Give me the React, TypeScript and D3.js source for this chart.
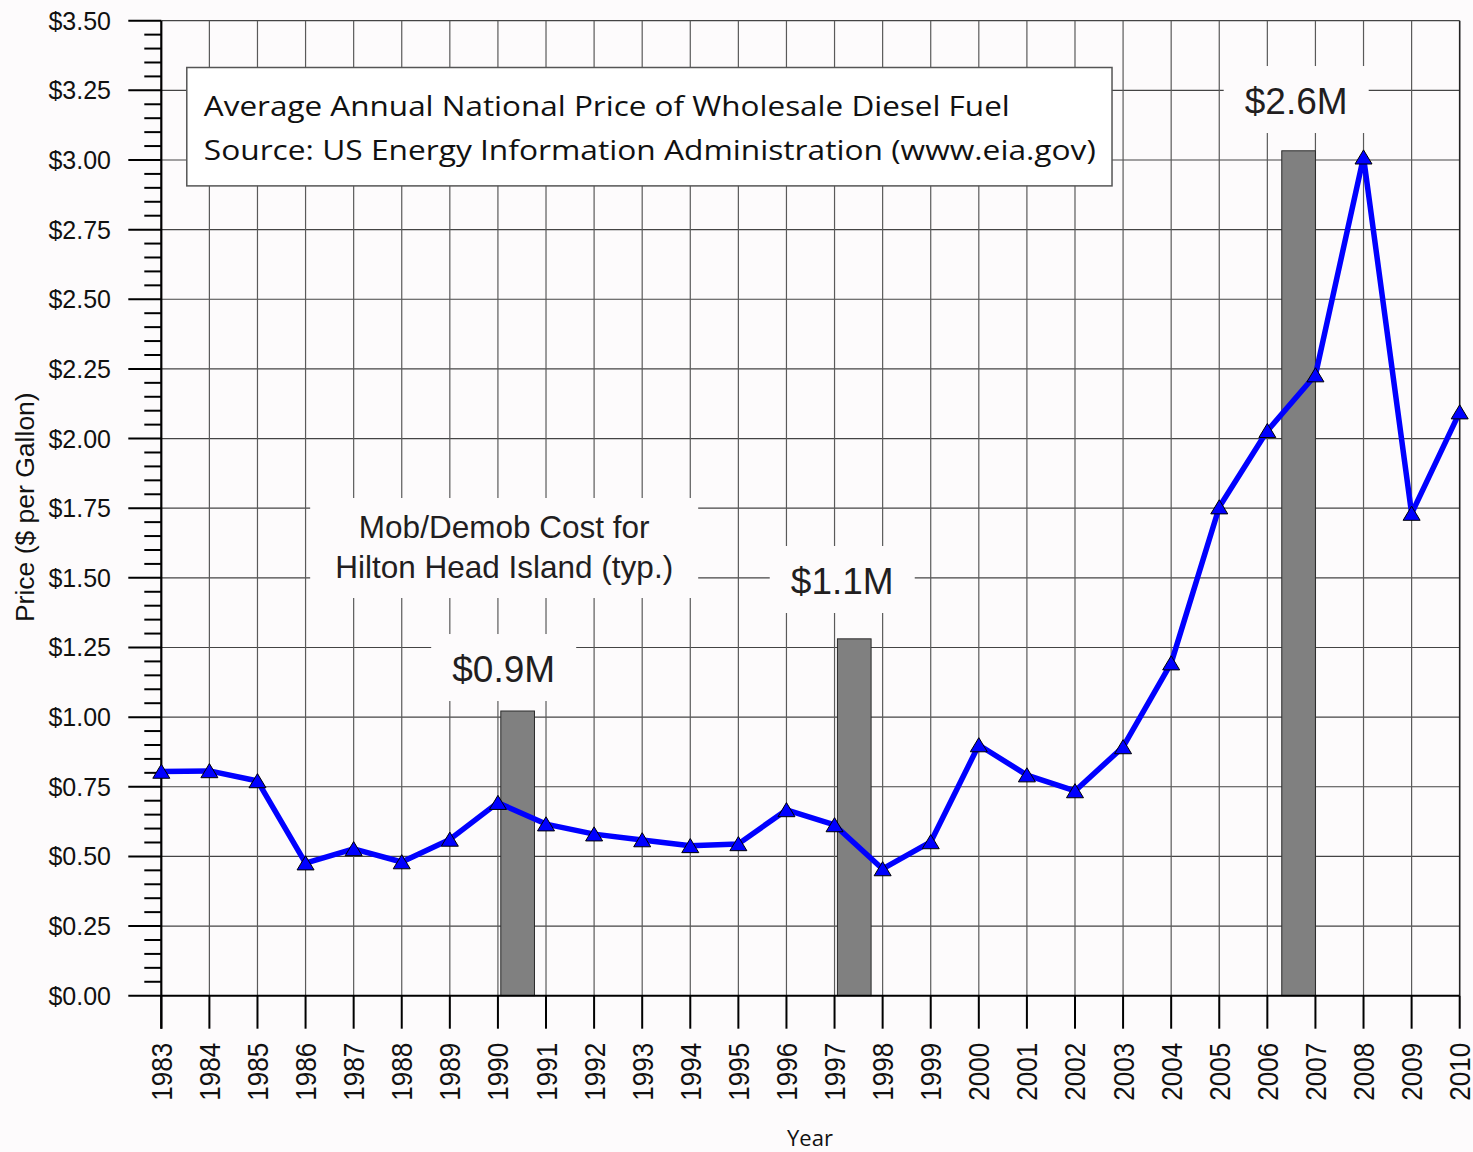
import React, { useEffect, useRef } from 'react';
import * as d3 from 'd3';

// annual wholesale diesel price ($/gal)
const years = [1983, 1984, 1985, 1986, 1987, 1988, 1989, 1990, 1991, 1992, 1993, 1994, 1995, 1996,
  1997, 1998, 1999, 2000, 2001, 2002, 2003, 2004, 2005, 2006, 2007, 2008, 2009, 2010];
const prices = [0.805, 0.807, 0.771, 0.476, 0.527, 0.480, 0.561, 0.693, 0.616, 0.580, 0.559, 0.538, 0.545, 0.667,
  0.613, 0.455, 0.552, 0.900, 0.792, 0.735, 0.893, 1.194, 1.754, 2.028, 2.228, 3.010, 1.731, 2.095];

// mob/demob cost bars (drawn on the price axis)
const barStart = [1990.06, 1997.06, 2006.30];
const barEnd = [1990.76, 1997.76, 2007.0];
const barTop = [1.022, 1.281, 3.033];
const barLabels = ['$0.9M', '$1.1M', '$2.6M'];

const yTickValues = [0, 0.25, 0.5, 0.75, 1, 1.25, 1.5, 1.75, 2, 2.25, 2.5, 2.75, 3, 3.25, 3.5];
const yTickLabels = ['$0.00', '$0.25', '$0.50', '$0.75', '$1.00', '$1.25', '$1.50', '$1.75', '$2.00',
  '$2.25', '$2.50', '$2.75', '$3.00', '$3.25', '$3.50'];

const titleLines = ['Average Annual National Price of Wholesale Diesel Fuel',
  'Source: US Energy Information Administration (www.eia.gov)'];
const noteLines = ['Mob/Demob Cost for', 'Hilton Head Island (typ.)'];

const BG = '#fdfbfc';
const TXT = '#221e1f';

const triangle = {
  draw(ctx: any, size: number) {
    const w = size / 2, h = size * 0.8;
    ctx.moveTo(0, -h / 2 - 0.5);
    ctx.lineTo(w, h / 2);
    ctx.lineTo(-w, h / 2);
    ctx.closePath();
  }
};

export default function App() {
  const ref = useRef<SVGSVGElement | null>(null);

  useEffect(() => {
    const svg = d3.select(ref.current);
    svg.selectAll('*').remove();
    const width = 1473, height = 1152;

    const x = d3.scaleLinear().domain([1983, 2010]).range([161.3, 1459.7]);
    const y = d3.scaleLinear().domain([0, 3.5]).range([995.7, 20.7]);

    svg.append('rect').attr('width', width).attr('height', height).attr('fill', BG);

    // grid
    const grid = svg.append('g');
    grid.selectAll('line.h').data(yTickValues.filter(v => v > 0)).enter().append('line')
      .attr('x1', x(1983)).attr('x2', x(2010)).attr('y1', d => y(d)).attr('y2', d => y(d))
      .attr('stroke', '#444').attr('stroke-width', 1.2);
    grid.selectAll('line.v').data(years.slice(1)).enter().append('line')
      .attr('x1', d => x(d)).attr('x2', d => x(d)).attr('y1', y(3.5)).attr('y2', y(0))
      .attr('stroke', d => d === 2010 ? '#222' : '#5a5a5a').attr('stroke-width', d => d === 2010 ? 1.6 : 1.2);

    // bars
    svg.append('g').selectAll('rect').data(barTop).enter().append('rect')
      .attr('x', (d, i) => x(barStart[i])).attr('width', (d, i) => x(barEnd[i]) - x(barStart[i]))
      .attr('y', d => y(d)).attr('height', d => y(0) - y(d))
      .attr('fill', '#808080').attr('stroke', '#2a2a2a').attr('stroke-width', 1);

    // title box
    svg.append('rect').attr('x', x(1983.53)).attr('y', y(3.332))
      .attr('width', x(2002.77) - x(1983.53)).attr('height', y(2.907) - y(3.332))
      .attr('fill', '#fff').attr('stroke', '#555').attr('stroke-width', 1.5);
    const titleLen = [806, 892];
    titleLines.forEach((t, i) => {
      svg.append('text').attr('x', x(1983.53) + 17).attr('y', y(3.332) + 48 + i * 44)
        .attr('font-family', 'Open Sans, sans-serif').attr('font-size', 27).attr('fill', '#111')
        .attr('textLength', titleLen[i]).attr('lengthAdjust', 'spacingAndGlyphs').text(t);
    });

    // Mob/Demob note
    const nx = x(1990.13), nb = y(1.643);
    svg.append('rect').attr('x', nx - 194).attr('y', nb - 40).attr('width', 388).attr('height', 100).attr('fill', BG);
    noteLines.forEach((t, i) => {
      svg.append('text').attr('x', nx).attr('y', nb + i * 40).attr('text-anchor', 'middle')
        .attr('font-family', 'Liberation Sans, Arial, sans-serif').attr('font-size', 31.5).attr('fill', TXT).text(t);
    });

    // bar cost labels
    const labelAt = [[1990.12, 1.126], [1997.16, 1.442], [2006.6, 3.165]];
    barLabels.forEach((t, i) => {
      const cx = x(labelAt[i][0]), by = y(labelAt[i][1]);
      svg.append('rect').attr('x', cx - 72.5).attr('y', by - 48).attr('width', 145).attr('height', 67).attr('fill', BG);
      svg.append('text').attr('x', cx).attr('y', by).attr('text-anchor', 'middle')
        .attr('font-family', 'Liberation Sans, Arial, sans-serif').attr('font-size', 37).attr('fill', TXT).text(t);
    });

    // y axis
    const minor = d3.range(0, 3.5001, 0.05).filter(v => Math.abs(v / 0.25 - Math.round(v / 0.25)) > 1e-6);
    const yAxisG = svg.append('g');
    yAxisG.selectAll('line.minor').data(minor).enter().append('line')
      .attr('x1', x(1983) - 17).attr('x2', x(1983)).attr('y1', d => y(d)).attr('y2', d => y(d))
      .attr('stroke', '#000').attr('stroke-width', 2);
    yAxisG.selectAll('line.major').data(yTickValues).enter().append('line')
      .attr('x1', x(1983) - 33).attr('x2', x(1983)).attr('y1', d => y(d)).attr('y2', d => y(d))
      .attr('stroke', '#000').attr('stroke-width', 2);
    yAxisG.selectAll('text').data(yTickValues).enter().append('text')
      .attr('x', 111).attr('y', d => y(d) + 9).attr('text-anchor', 'end')
      .attr('font-family', 'Liberation Sans, Arial, sans-serif').attr('font-size', 25).attr('fill', '#111')
      .text((d, i) => yTickLabels[i]);
    yAxisG.append('line').attr('x1', x(1983)).attr('x2', x(1983)).attr('y1', y(3.5)).attr('y2', y(0) + 33)
      .attr('stroke', '#000').attr('stroke-width', 2.2);

    // x axis
    const xAxisG = svg.append('g');
    xAxisG.append('line').attr('x1', x(1983)).attr('x2', x(2010)).attr('y1', y(0)).attr('y2', y(0))
      .attr('stroke', '#000').attr('stroke-width', 2);
    xAxisG.selectAll('line.tick').data(years).enter().append('line')
      .attr('x1', d => x(d)).attr('x2', d => x(d)).attr('y1', y(0)).attr('y2', y(0) + 33)
      .attr('stroke', '#000').attr('stroke-width', 2);
    xAxisG.selectAll('text').data(years).enter().append('text')
      .attr('transform', d => `translate(${x(d) + 10.5},${y(0) + 47}) rotate(-90)`)
      .attr('text-anchor', 'end').attr('font-family', 'Liberation Sans, Arial, sans-serif')
      .attr('font-size', 29).attr('textLength', 58).attr('lengthAdjust', 'spacingAndGlyphs').attr('fill', '#111')
      .text(d => String(d));

    svg.append('text').attr('x', 810).attr('y', 1146).attr('text-anchor', 'middle')
      .attr('font-family', 'Open Sans, sans-serif').attr('font-size', 22).attr('fill', '#111').text('Year');
    svg.append('text').attr('transform', `translate(34,${y(1.75) - 1}) rotate(-90)`).attr('text-anchor', 'middle')
      .attr('font-family', 'Liberation Sans, Arial, sans-serif').attr('font-size', 26.5).attr('fill', '#111')
      .text('Price ($ per Gallon)');

    // price line
    const line = d3.line<number>().x((d, i) => x(years[i])).y(d => y(d));
    svg.append('path').datum(prices).attr('fill', 'none').attr('stroke', '#0000ff').attr('stroke-width', 5.5)
      .attr('stroke-linejoin', 'round').attr('d', line);
    const sym = d3.symbol().type(triangle as any).size(17);
    svg.append('g').selectAll('path').data(prices).enter().append('path')
      .attr('transform', (d, i) => `translate(${x(years[i])},${y(d)})`)
      .attr('d', sym).attr('fill', '#0000ff').attr('stroke', '#000').attr('stroke-width', 1);
  }, []);

  return <svg ref={ref} width={1473} height={1152} style={{ position: 'absolute', left: 0, top: 0, display: 'block' }} />;
}
